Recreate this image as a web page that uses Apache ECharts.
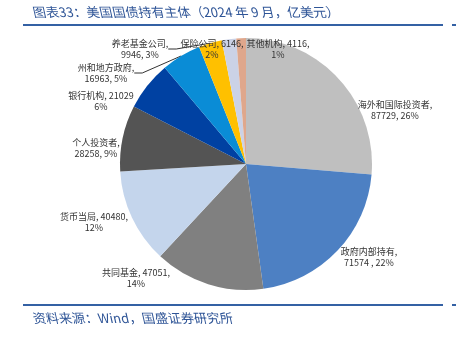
<!DOCTYPE html>
<html><head><meta charset="utf-8">
<script src="https://cdn.jsdelivr.net/npm/echarts@6/dist/echarts.min.js"></script>
<style>html,body{margin:0;padding:0;background:#fff}#c{width:456px;height:337px}</style>
</head><body><div id="c"></div>
<script>
// Data
const categories = ['海外和国际投资者','政府内部持有','共同基金','货币当局','个人投资者','银行机构','州和地方政府','养老基金公司','保险公司','其他机构'];
const values = [87729, 71574, 47051, 40480, 28258, 21029, 16963, 9946, 6146, 4116];
const pctLabels = ['26%','22%','14%','12%','9%','6%','5%','3%','2%','1%'];

// Layout / style (kept separate from data)
const colors = ['#BFBFBF','#4D80C3','#808080','#C4D5EC','#545454','#0041A2','#0A8CD6','#FFC000','#CBD2E6','#DFA78C'];
const labelPos = [[395,110],[369,257],[136,278],[94,222],[96,148],[101,101],[106,73],[140,49],[212,49],[278,49]];
// label line-break style: 'A' = name,\nvalue, pct ; 'B' = name, value,\npct ; 'C' = name, value\npct
const labelStyle = ['A','A','B','B','A','C','A','A','B','B'];
const valueSep = [', ',' , ',', ',', ',', ',', ',', ',', ',', ',', '];
const withLine = [false,false,false,false,false,false,true,true,false,false];

const data = categories.map((n,i)=>({
  name:n, value:values[i],
  itemStyle:{color:colors[i]},
  labelLine:{show:withLine[i]}
}));

const chart = echarts.init(document.getElementById('c'), null, {renderer:'canvas'});
const blue = '#2F5597';
const FONT = '"Noto Sans CJK SC", sans-serif';
const titleText = '图表33：美国国债持有主体（2024 年 9 月，亿美元）';
const sourceText = '资料来源：Wind，国盛证券研究所';
chart.setOption({
  animation:false,
  graphic:[
    {type:'text', id:'ttl', x:33, y:12, style:{text:titleText, fill:blue, font:'13px '+FONT, verticalAlign:'middle'}},
    {type:'line', shape:{x1:23,y1:25,x2:443,y2:25}, style:{stroke:'#3461A4', lineWidth:2}},
    {type:'line', shape:{x1:452,y1:25,x2:456,y2:25}, style:{stroke:'#3461A4', lineWidth:2}},
    {type:'line', shape:{x1:23,y1:305,x2:443,y2:305}, style:{stroke:'#3461A4', lineWidth:2}},
    {type:'line', shape:{x1:452,y1:305,x2:456,y2:305}, style:{stroke:'#3461A4', lineWidth:2}},
    {type:'text', id:'src', x:33, y:318, style:{text:sourceText, fill:blue, font:'13px '+FONT, verticalAlign:'middle'}}
  ],
  series:[{
    type:'pie',
    center:[246,164],
    radius:126,
    startAngle:90,
    clockwise:true,
    avoidLabelOverlap:false,
    data:data,
    itemStyle:{borderWidth:0},
    label:{
      show:true,
      position:'outside',
      fontSize:9,
      lineHeight:11,
      color:'#333',
      align:'center',
      fontFamily:FONT,
      formatter:(p)=>{
        const i=p.dataIndex, s=labelStyle[i];
        if(s==='C') return p.name+', '+values[i]+'\n'+pctLabels[i];
        if(s==='B') return p.name+', '+values[i]+',\n'+pctLabels[i];
        return p.name+',\n'+values[i]+valueSep[i]+pctLabels[i];
      }
    },
    labelLine:{show:false, length:8, length2:8, lineStyle:{color:'#333', width:1}},
    labelLayout:(p)=>{
      const pos=labelPos[p.dataIndex];
      return {x:pos[0], y:pos[1], align:'center', verticalAlign:'middle', moveOverlap:null};
    }
  }]
});
// slant the title and source texts (italic look for CJK glyphs)
try {
  const zr = chart.getZr();
  zr.storage.getRoots().forEach(root=>{
    const visit = el=>{
      if(el.style && (el.style.text===titleText || el.style.text===sourceText)){
        el.skewX = 0.22;
        el.dirty && el.dirty();
        el.markRedraw();
      }
    };
    visit(root);
    root.traverse && root.traverse(visit);
  });
  zr.refreshImmediately();
} catch(e) {}
</script></body></html>
